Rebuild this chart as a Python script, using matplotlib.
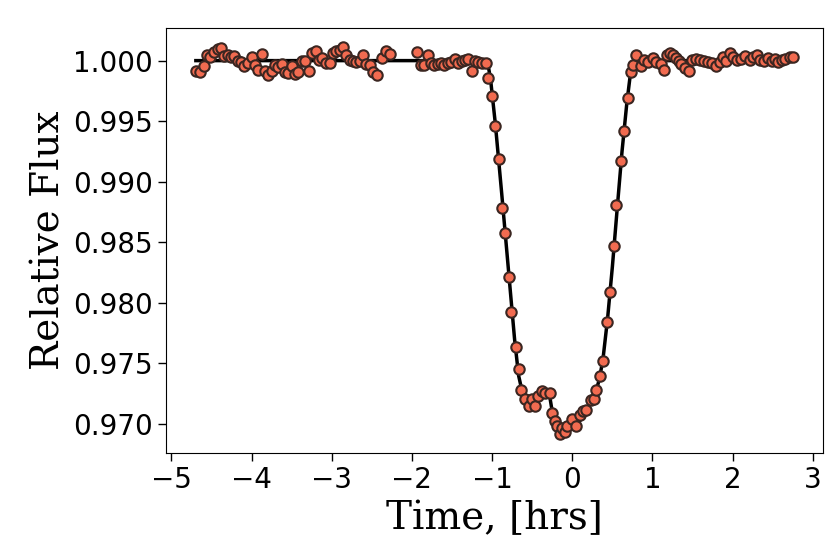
import numpy as np
import matplotlib
matplotlib.use("Agg")
import matplotlib.pyplot as plt

# observed points, hours from mid-transit
pre_time = [-4.694, -4.640, -4.598, -4.557, -4.515, -4.465, -4.423, -4.382, -4.340, -4.299,
            -4.257, -4.215, -4.174, -4.132, -4.091, -4.049, -3.999, -3.957, -3.916, -3.874,
            -3.833, -3.791, -3.749, -3.708, -3.666, -3.625, -3.583, -3.541, -3.500, -3.458,
            -3.417, -3.375, -3.333, -3.283, -3.242, -3.200, -3.159, -3.117, -3.067, -3.026,
            -2.984, -2.942, -2.901, -2.859, -2.818, -2.776, -2.734, -2.693, -2.651, -2.610,
            -2.568, -2.527, -2.485, -2.435, -2.377, -2.327, -2.277,
            -1.936, -1.886, -1.844, -1.803, -1.761, -1.719, -1.678, -1.636, -1.594, -1.553,
            -1.511, -1.461, -1.420, -1.378, -1.337, -1.295, -1.254, -1.212, -1.170, -1.129,
            -1.079]
pre_flux = [0.99918, 0.99907, 0.99959, 1.00050, 1.00028, 1.00072, 1.00099, 1.00105, 1.00036, 1.00050,
            1.00028, 1.00036, 1.00000, 0.99989, 0.99953, 0.99981, 1.00028, 0.99967, 0.99926, 1.00055,
            0.99918, 0.99879, 0.99912, 0.99967, 0.99945, 0.99973, 0.99907, 0.99898, 0.99953, 0.99890,
            0.99907, 0.99995, 1.00000, 0.99912, 1.00063, 1.00077, 1.00008, 1.00022, 0.99981, 0.99981,
            1.00063, 1.00077, 1.00091, 1.00110, 1.00050, 1.00008, 0.99995, 0.99989, 1.00000, 1.00050,
            0.99973, 0.99962, 0.99907, 0.99885, 1.00022, 1.00077, 1.00055,
            1.00069, 0.99967, 0.99967, 1.00044, 0.99981, 0.99967, 0.99973, 0.99981, 0.99967, 0.99981,
            0.99989, 1.00017, 0.99981, 1.00000, 1.00008, 1.00017, 0.99912, 0.99995, 0.99989, 0.99981,
            0.99981]

in_time = [-1.045, -1.002, -0.970, -0.915, -0.878, -0.845, -0.790, -0.762, -0.708, -0.665,
           -0.637, -0.595, -0.546, -0.503, -0.471, -0.428, -0.378, -0.346, -0.283, -0.250,
           -0.221, -0.187, -0.150, -0.125, -0.094, -0.062, -0.004, 0.050, 0.091, 0.133,
           0.175, 0.228, 0.271, 0.300, 0.350, 0.387, 0.437, 0.474, 0.516, 0.549,
           0.603, 0.645, 0.695, 0.728, 0.758, 0.799]
in_flux = [0.99857, 0.99705, 0.99463, 0.99190, 0.98779, 0.98576, 0.98212, 0.97920, 0.97631, 0.97452,
           0.97281, 0.97204, 0.97143, 0.97204, 0.97149, 0.97226, 0.97267, 0.97254, 0.97254, 0.97088,
           0.97025, 0.96978, 0.96917, 0.96964, 0.96934, 0.96978, 0.97039, 0.96978, 0.97074, 0.97102,
           0.97116, 0.97193, 0.97204, 0.97281, 0.97397, 0.97515, 0.97845, 0.98085, 0.98465, 0.98810,
           0.99168, 0.99416, 0.99692, 0.99904, 0.99967, 1.00050]

post_time = [0.853, 0.894, 0.944, 1.007, 1.048, 1.102, 1.144, 1.186, 1.223, 1.261,
             1.294, 1.327, 1.360, 1.402, 1.452, 1.494, 1.543, 1.593, 1.643, 1.693,
             1.743, 1.797, 1.839, 1.880, 1.922, 1.964, 2.005, 2.059, 2.109, 2.159,
             2.213, 2.259, 2.301, 2.342, 2.392, 2.434, 2.484, 2.525, 2.567, 2.617,
             2.658, 2.712, 2.754]
post_flux = [0.99953, 1.00006, 0.99986, 1.00022, 0.99986, 0.99973, 0.99923, 1.00050, 1.00061, 1.00050,
             1.00022, 0.99995, 0.99973, 0.99940, 0.99912, 1.00006, 1.00014, 1.00006, 0.99995, 0.99986,
             0.99978, 0.99959, 0.99986, 1.00028, 1.00000, 1.00061, 1.00028, 1.00006, 1.00014, 1.00041,
             1.00006, 1.00028, 1.00050, 1.00006, 0.99995, 1.00022, 1.00000, 1.00014, 0.99986, 1.00006,
             1.00014, 1.00033, 1.00028]

# best-fit model (transit with spot crossing)
model_time = [-4.694, -1.060, -1.020, -0.960, -0.880, -0.800, -0.720, -0.670, -0.620, -0.560,
              -0.500, -0.440, -0.380, -0.320, -0.280, -0.250, -0.200, -0.150, -0.080, 0.000,
              0.080, 0.150, 0.220, 0.280, 0.330, 0.380, 0.440, 0.500, 0.560, 0.620,
              0.680, 0.730, 0.760, 2.754]
model_flux = [1.0000, 1.0000, 0.9985, 0.9948, 0.9890, 0.9830, 0.9770, 0.9740, 0.9725, 0.9717,
              0.9718, 0.9722, 0.9726, 0.9727, 0.9722, 0.9710, 0.9700, 0.9694, 0.9693, 0.9696,
              0.9701, 0.9708, 0.9716, 0.9724, 0.9735, 0.9752, 0.9787, 0.9830, 0.9878, 0.9925,
              0.9965, 0.9992, 1.0000, 1.0000]

t = np.array(pre_time + in_time + post_time)
f = np.array(pre_flux + in_flux + post_flux)

fig = plt.figure(figsize=(8.3, 5.54), dpi=100)
ax = fig.add_axes([0.2, 0.182, 0.7916, 0.7675])

ax.plot(model_time, model_flux, color="black", lw=2.5, zorder=2)
ax.plot(t, f, "o", ms=7.5, mfc="#f26b50", mec="#3b2621", mew=1.5, zorder=3)

ax.set_xticks([-5, -4, -3, -2, -1, 0, 1, 2, 3])
ax.set_yticks([0.970, 0.975, 0.980, 0.985, 0.990, 0.995, 1.000])
ax.tick_params(labelsize=20, length=6, width=1)
ax.set_xlabel("Time, [hrs]", family="DejaVu Serif", fontsize=28)
ax.set_ylabel("Relative Flux", family="DejaVu Serif", fontsize=28)

plt.savefig("out.png", dpi=100)
plt.close()
